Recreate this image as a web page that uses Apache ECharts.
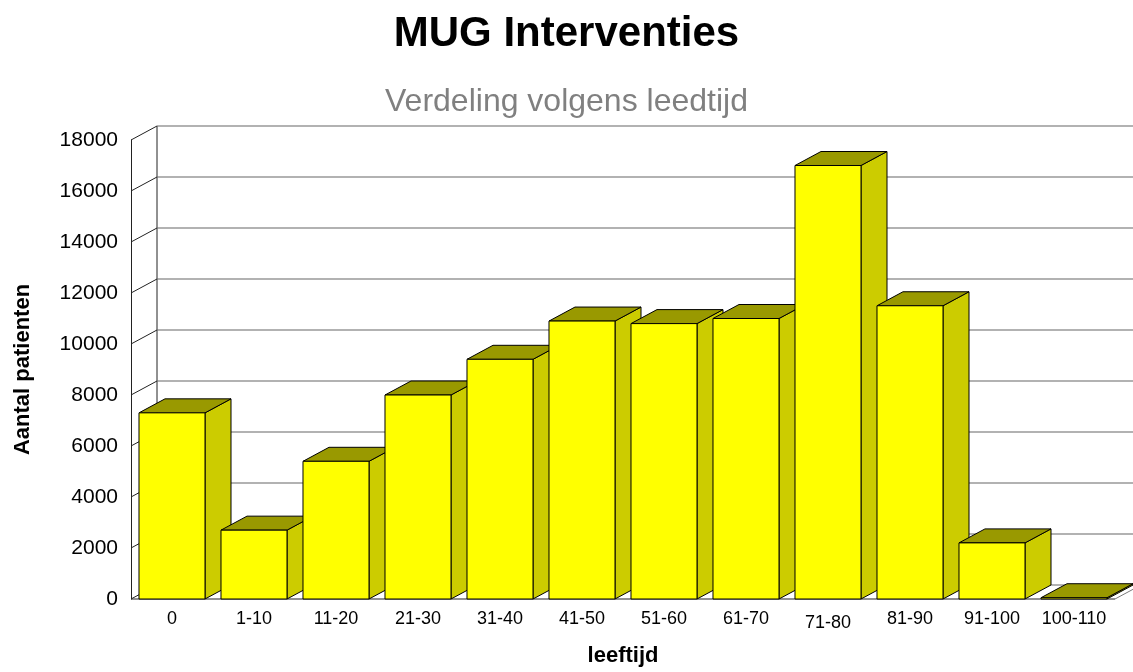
<!DOCTYPE html>
<html>
<head>
<meta charset="utf-8">
<title>MUG Interventies</title>
<script src="https://cdn.jsdelivr.net/npm/echarts@6/dist/echarts.min.js"></script>
<style>
  html, body { margin: 0; padding: 0; background: #fff; }
  #main { width: 1133px; height: 672px; }
</style>
</head>
<body>
<div id="main"></div>
<script>
// data
const categories = ['0', '1-10', '11-20', '21-30', '31-40', '41-50', '51-60', '61-70', '71-80', '81-90', '91-100', '100-110'];
const patients = [7300, 2700, 5400, 8000, 9400, 10900, 10800, 11000, 17000, 11500, 2200, 50];
const yTicks = [0, 2000, 4000, 6000, 8000, 10000, 12000, 14000, 16000, 18000];

// fake 3d: how far the back wall sits from the front plane
const DX = 26;
const DY = -14;
const BAR_RATIO = 0.805;

const chart = echarts.init(document.getElementById('main'));

// back wall gridlines + side wall diagonals, floor edges on the 0 line
function renderWall(params, api) {
  const cs = params.coordSys;
  const y = api.coord([0, api.value(1)])[1];
  const x0 = cs.x;
  const x1 = cs.x + cs.width;
  const children = [
    {type: 'line', shape: {x1: x0 + DX, y1: y + DY, x2: x1 + DX, y2: y + DY}, style: {stroke: '#666', lineWidth: 1.2}},
    {type: 'line', shape: {x1: x0, y1: y, x2: x0 + DX, y2: y + DY}, style: {stroke: '#222', lineWidth: 1}}
  ];
  if (api.value(1) === 0) {
    children.push(
      {type: 'line', shape: {x1: x0 + DX, y1: cs.y + DY, x2: x0 + DX, y2: y + DY}, style: {stroke: '#222', lineWidth: 1}},
      {type: 'line', shape: {x1: x1, y1: y, x2: x1 + DX, y2: y + DY}, style: {stroke: '#7a7a7a', lineWidth: 1}},
      {type: 'line', shape: {x1: x0, y1: y, x2: x1, y2: y}, style: {stroke: '#222', lineWidth: 1}}
    );
  }
  return {type: 'group', children: children};
}

function renderBar(params, api) {
  const top = api.coord([api.value(0), api.value(1)]);
  const base = api.coord([api.value(0), 0]);
  const bw = api.size([1, 0])[0] * BAR_RATIO;
  const xl = top[0] - bw / 2;
  const xr = top[0] + bw / 2;
  const yt = top[1];
  const yb = base[1];
  const edge = {stroke: '#000', lineWidth: 1, lineJoin: 'round'};
  return {
    type: 'group',
    children: [
      {type: 'polygon', shape: {points: [[xr, yb], [xr + DX, yb + DY], [xr + DX, yt + DY], [xr, yt]]},
        style: Object.assign({fill: '#CCCC00'}, edge)},
      {type: 'polygon', shape: {points: [[xl, yt], [xr, yt], [xr + DX, yt + DY], [xl + DX, yt + DY]]},
        style: Object.assign({fill: '#999900'}, edge)},
      {type: 'rect', shape: {x: xl, y: yt, width: bw, height: yb - yt},
        style: Object.assign({fill: '#FFFF00'}, edge)}
    ]
  };
}

const axisLabels = categories.map(function (c) {
  // excel drops this one label a few pixels
  return c === '71-80' ? {value: c, textStyle: {padding: [4, 0, 0, 0]}} : c;
});

const options = {
  animation: false,
  textStyle: {fontFamily: 'Arial, "Liberation Sans", sans-serif'},
  title: [
    {
      text: 'MUG Interventies',
      left: 'center',
      top: 8,
      padding: [5, 5, 5, 25],
      textStyle: {fontSize: 42, fontWeight: 'bold', color: '#000'}
    },
    {
      text: 'Verdeling volgens leedtijd',
      left: 'center',
      top: 81,
      textStyle: {fontSize: 32, fontWeight: 'normal', color: '#808080'}
    }
  ],
  grid: {left: 131, top: 140, width: 984, height: 460},
  xAxis: {
    type: 'category',
    data: axisLabels,
    axisLine: {show: false},
    axisTick: {show: false},
    axisLabel: {fontSize: 18, color: '#000', margin: 11, interval: 0},
    name: 'leeftijd',
    nameLocation: 'middle',
    nameGap: 46,
    nameTextStyle: {fontSize: 22, fontWeight: 'bold', color: '#000'}
  },
  yAxis: {
    type: 'value',
    min: 0,
    max: 18000,
    interval: 2000,
    axisLine: {show: true, lineStyle: {color: '#222', width: 1}},
    axisTick: {show: false},
    splitLine: {show: false},
    axisLabel: {fontSize: 21, color: '#000', margin: 13, formatter: function (v) { return String(v); }},
    name: 'Aantal patienten',
    nameLocation: 'middle',
    nameGap: 97,
    nameTextStyle: {fontSize: 22, fontWeight: 'bold', color: '#000'}
  },
  series: [
    {
      type: 'custom',
      renderItem: renderWall,
      data: yTicks.map(function (v) { return [0, v]; }),
      z: 1,
      silent: true
    },
    {
      type: 'custom',
      renderItem: renderBar,
      data: patients.map(function (v, i) { return [i, v]; }),
      z: 2
    }
  ]
};

chart.setOption(options);
</script>
</body>
</html>
